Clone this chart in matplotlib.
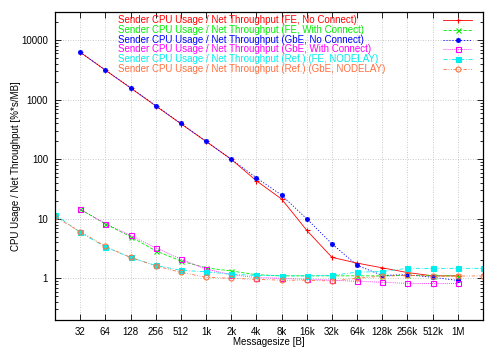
import numpy as np
import matplotlib
matplotlib.use('Agg')
import matplotlib.pyplot as plt
from matplotlib.ticker import FixedLocator, NullFormatter, LogLocator

plt.rcParams['font.family'] = ['Liberation Sans', 'DejaVu Sans']

sizes = [16, 32, 64, 128, 256, 512, 1024, 2048, 4096, 8192, 16384, 32768,
         65536, 131072, 262144, 524288, 1048576, 2097152]
tick_sizes = sizes[1:-1]
tick_labels = ['32', '64', '128', '256', '512', '1k', '2k', '4k', '8k', '16k',
               '32k', '64k', '128k', '256k', '512k', '1M']

nan = np.nan
fe_noconn = [nan, 6300, 3150, 1580, 790, 395, 200, 100, 43.5, 21.5, 6.4, 2.25,
             1.8, 1.5, 1.25, 1.1, 1.1, nan]
fe_conn = [nan, 14.5, 8.2, 5.0, 2.9, 1.95, 1.5, 1.33, 1.15, 1.1, 1.1, 1.1,
           1.1, 1.1, 1.12, 1.1, 1.1, nan]
gbe_noconn = [nan, 6300, 3160, 1600, 800, 400, 200, 100, 49, 25, 10, 3.8,
              1.65, 1.12, 1.15, 1.04, 0.92, nan]
gbe_conn = [nan, 14.5, 8.3, 5.25, 3.25, 2.1, 1.43, 1.15, 1.03, 1.0, 0.96, 0.93,
            0.89, 0.86, 0.82, 0.82, 0.82, nan]
ref_fe = [11.8, 5.9, 3.37, 2.24, 1.65, 1.36, 1.29, 1.17, 1.12, 1.1, 1.1, 1.12,
          1.27, 1.3, 1.47, 1.47, 1.47, 1.47]
ref_gbe = [10.8, 6.1, 3.45, 2.24, 1.62, 1.26, 1.04, 1.0, 0.96, 0.93, 0.93, 0.9,
           1.0, 1.09, 1.12, 1.09, 1.09, 1.1]

series = [
    ('Sender CPU Usage / Net Throughput (FE, No Connect)', fe_noconn,
     '#ff0000', '-', '+', 'full'),
    ('Sender CPU Usage / Net Throughput (FE, With Connect)', fe_conn,
     '#00ee00', (0, (4, 2)), 'x', 'full'),
    ('Sender CPU Usage / Net Throughput (GbE, No Connect)', gbe_noconn,
     '#0000ff', (0, (1.5, 2)), (8, 2, 0), 'full'),
    ('Sender CPU Usage / Net Throughput (GbE, With Connect)', gbe_conn,
     '#ff00ff', (0, (1, 1.5)), 's', 'none'),
    ('Sender CPU Usage / Net Throughput (Ref.) (FE, NODELAY)', ref_fe,
     '#00eeee', (0, (5, 2, 1, 2)), 's', 'full'),
    ('Sender CPU Usage / Net Throughput (Ref.) (GbE, NODELAY)', ref_gbe,
     '#ff7040', (0, (4, 2, 1, 2, 1, 2)), 'o', 'none'),
]

fig = plt.figure(figsize=(5, 3.5), dpi=100, facecolor='white')
ax = fig.add_axes([0.11, 0.086, 0.856, 0.88])

# gnuplot-style key: text left-aligned, sample on the right
key_top = 0.974
key_step = 0.032
for i, (label, vals, color, ls, marker, fill) in enumerate(series):
    style = dict(color=color, linestyle=ls, linewidth=0.6, marker=marker,
                 markersize=3.6, fillstyle=fill, markeredgewidth=0.8)
    ax.plot(sizes, vals, **style)
    ky = key_top - i * key_step
    ax.text(0.147, ky, label, color=color, fontsize=7, va='center', ha='left',
            transform=ax.transAxes)
    ax.plot([0.907, 0.974], [ky, ky], transform=ax.transAxes,
            **dict(style, marker=None))
    ax.plot([0.941], [ky], transform=ax.transAxes,
            **dict(style, linestyle='none'))

ax.set_xscale('log', base=2)
ax.set_yscale('log')
ax.set_xlim(16, 2097152)
ax.set_ylim(0.2, 30000)

ax.xaxis.set_major_locator(FixedLocator(tick_sizes))
ax.set_xticklabels(tick_labels)
ax.xaxis.set_minor_locator(FixedLocator([]))
ax.yaxis.set_minor_locator(LogLocator(base=10, subs=np.arange(2, 10), numticks=10))
ax.yaxis.set_minor_formatter(NullFormatter())
ax.set_yticks([1, 10, 100, 1000, 10000])
ax.set_yticklabels(['1', '10', '100', '1000', '10000'])

ax.tick_params(which='both', direction='in', top=True, right=True,
               labelsize=7, length=4, width=0.6, pad=5)
ax.tick_params(which='minor', length=2)
ax.grid(True, which='major', color='#b8b8b8', linestyle=(0, (1, 2)), linewidth=0.6)
for s in ax.spines.values():
    s.set_linewidth(0.9)

ax.set_xlabel('Messagesize [B]', fontsize=7, labelpad=0)
ax.set_ylabel('CPU Usage / Net Throughput [%*s/MB]', fontsize=7, labelpad=0)

fig.savefig('out.png', dpi=100, facecolor='white')
